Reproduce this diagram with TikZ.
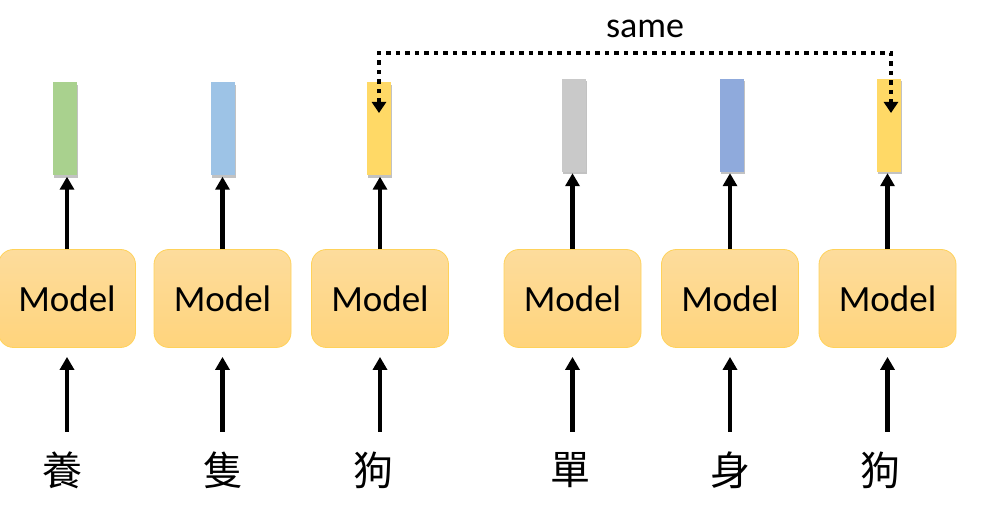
\documentclass[tikz,border=0pt]{standalone}
\usepackage{fontspec}
\setmainfont{Carlito}
\newfontfamily\cjk{Noto Sans CJK TC}
\usetikzlibrary{arrows.meta,shadows}
\definecolor{cgreen}{HTML}{A9D18E}
\definecolor{clblue}{HTML}{9DC3E6}
\definecolor{cyellow}{HTML}{FFD966}
\definecolor{cgray}{HTML}{C9C9C9}
\definecolor{cblue}{HTML}{8FAADC}
\definecolor{boxtop}{HTML}{FDDC9C}
\definecolor{boxbot}{HTML}{FFD47C}
\definecolor{boxline}{HTML}{FFD25A}
\tikzset{
  modelbox/.style={rounded corners=15pt, draw=boxline, line width=0.8pt,
    top color=boxtop, bottom color=boxbot, minimum width=137pt, minimum height=98pt,
    inner sep=0pt, font=\fontsize{37}{40}\selectfont},
  vecbar/.style={minimum width=24pt, minimum height=93pt, inner sep=0pt,
    drop shadow={shadow xshift=1pt, shadow yshift=-2.5pt, opacity=0.4, fill=black!60}},
  word/.style={inner sep=0pt, minimum height=76pt, font=\cjk\fontsize{40}{44}\selectfont},
  arr/.style={line width=4.5pt, -{Triangle[length=13pt,width=14pt]}},
  dotarr/.style={line width=4.5pt, dash pattern=on 4.5pt off 5pt,
    {Triangle[length=11pt,width=14pt]}-{Triangle[length=11pt,width=14pt]}},
}
\begin{document}
\begin{tikzpicture}[x=1pt,y=-1pt]
\useasboundingbox (0,0) rectangle (991,526);
% models
\node[modelbox] (m1) at (67,298.5) {Model};
\node[modelbox] (m2) at (222.5,298.5) {Model};
\node[modelbox] (m3) at (380,298.5) {Model};
\node[modelbox] (m4) at (572.5,298.5) {Model};
\node[modelbox] (m5) at (730,298.5) {Model};
\node[modelbox] (m6) at (887.5,298.5) {Model};
% bars
\node[vecbar, fill=cgreen] (b1) at (65,129) {};
\node[vecbar, fill=clblue] (b2) at (223,129) {};
\node[vecbar, fill=cyellow] (b3) at (379,129) {};
\node[vecbar, fill=cgray] (b4) at (574,125.5) {};
\node[vecbar, fill=cblue] (b5) at (732,125.5) {};
\node[vecbar, fill=cyellow] (b6) at (889,125.5) {};
% words
\node[word] (c1) at (62,470) {養};
\node[word] (c2) at (223,470) {隻};
\node[word] (c3) at (373,470) {狗};
\node[word] (c4) at (570,470) {單};
\node[word] (c5) at (730,470) {身};
\node[word] (c6) at (880,470) {狗};
% arrows
\foreach \i in {1,...,6}{
  \draw[arr, shorten >=9pt] (c\i.north -| m\i.south) -- (m\i.south);
  \draw[arr, shorten >=1pt] (m\i.north) -- (m\i.north |- b\i.south);
}
% same
\coordinate (tl) at (379,113);
\coordinate (dl) at (379,53);
\coordinate (dr) at (891,53);
\coordinate (tr) at (891,113);
\draw[dotarr] (tl) -- (dl) -- (dr) -- (tr);
\node[font=\fontsize{36}{40}\selectfont] (same) at (645,29) {same};
\end{tikzpicture}
\end{document}
